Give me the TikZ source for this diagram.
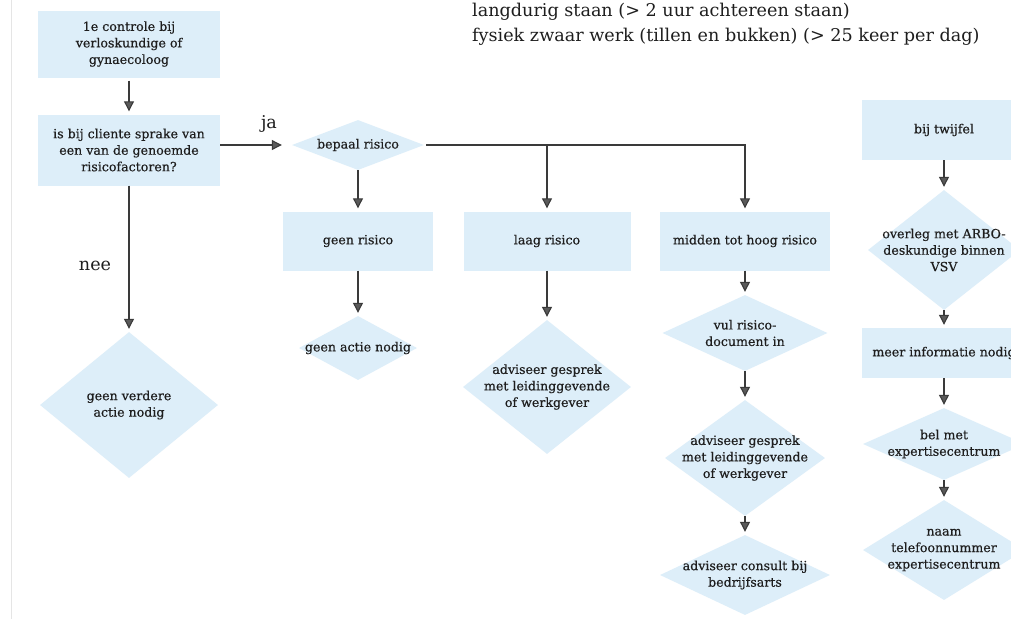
\documentclass[tikz,border=0pt]{standalone}
\usepackage{fontspec}
\setmainfont{DejaVu Serif}
\newfontfamily\flowfam{DejaVu Serif}[FakeBold=0.45]
\usetikzlibrary{arrows.meta,shapes.geometric}
\definecolor{fillblue}{HTML}{DDEEF9}
\definecolor{linegray}{HTML}{3A3A3A}
\definecolor{tipgray}{HTML}{5A5A5A}
\definecolor{txtgray}{HTML}{1E1E1E}
\newcommand\flowfont{\flowfam\fontsize{12.6}{16.5}\selectfont}
\newcommand\bigfont{\fontsize{17.6}{25}\selectfont}
\begin{document}
\begin{tikzpicture}[x=1pt,y=-1pt,
  box/.style={rectangle, fill=fillblue, inner sep=0pt, align=center, text=txtgray, font=\flowfont},
  dia/.style={diamond, fill=fillblue, inner sep=0pt},
  dtext/.style={align=center, text=txtgray, font=\flowfont},
  arr/.style={draw=linegray, line width=1.1pt, shorten >=3pt,
    -{Triangle[width=10pt,length=10pt,fill=tipgray]}},
  lbl/.style={text=txtgray, font=\bigfont, inner sep=0pt},
]
\useasboundingbox (0,0) rectangle (1011,619);
\fill[white] (0,0) rectangle (1011,619);
\draw[gray!20, line width=0.8pt] (11,0) -- (11,619);

% top text
\node[lbl, anchor=west, align=left] (riskfactors) at (472,24.5)
  {langdurig staan (> 2 uur achtereen staan)\\fysiek zwaar werk (tillen en bukken) (> 25 keer per dag)};

% left column
\node[box, minimum width=182pt, minimum height=67pt] (start) at (129,44)
  {1e controle bij\\verloskundige of\\gynaecoloog};
\node[box, minimum width=182pt, minimum height=71pt] (vraag) at (129,150)
  {is bij cliente sprake van\\een van de genoemde\\risicofactoren?};
\node[dia, minimum width=178pt, minimum height=146pt,
  label={[dtext,name=geenverdere-t]center:geen verdere\\actie nodig}] (geenverdere) at (129,405) {};

% bepaal risico
\node[dia, minimum width=132pt, minimum height=50pt,
  label={[dtext,name=bepaal-t]center:bepaal risico}] (bepaal) at (358,145) {};

% three risk boxes
\node[box, minimum width=150pt, minimum height=59pt] (geen) at (358,241) {geen risico};
\node[box, minimum width=167pt, minimum height=59pt] (laag) at (547,241) {laag risico};
\node[box, minimum width=170pt, minimum height=59pt] (midden) at (745,241) {midden tot hoog risico};

\node[dia, minimum width=118pt, minimum height=64pt,
  label={[dtext,name=geenactie-t]center:geen actie nodig}] (geenactie) at (358,348) {};
\node[dia, minimum width=168pt, minimum height=134pt,
  label={[dtext,name=advlaag-t]center:adviseer gesprek\\met leidinggevende\\of werkgever}] (advlaag) at (547,387) {};

\node[dia, minimum width=165pt, minimum height=76pt,
  label={[dtext,name=vul-t]center:vul risico-\\document in}] (vul) at (745,333) {};
\node[dia, minimum width=160pt, minimum height=116pt,
  label={[dtext,name=adv2-t]center:adviseer gesprek\\met leidinggevende\\of werkgever}] (adv2) at (745,458) {};
\node[dia, minimum width=170pt, minimum height=80pt,
  label={[dtext,name=consult-t]center:adviseer consult bij\\bedrijfsarts}] (consult) at (745,575) {};

% right column
\node[box, minimum width=164pt, minimum height=60pt] (twijfel) at (944,130) {bij twijfel};
\node[dia, minimum width=152pt, minimum height=120pt,
  label={[dtext,name=overleg-t]center:overleg met ARBO-\\deskundige binnen\\VSV}] (overleg) at (944,250) {};
\node[box, minimum width=164pt, minimum height=50pt] (meer) at (944,353) {meer informatie nodig};
\node[dia, minimum width=162pt, minimum height=72pt,
  label={[dtext,name=bel-t]center:bel met\\expertisecentrum}] (bel) at (944,444) {};
\node[dia, minimum width=162pt, minimum height=100pt,
  label={[dtext,name=naam-t]center:naam\\telefoonnummer\\expertisecentrum}] (naam) at (944,550) {};

% connectors
\draw[arr, shorten <=3pt] (start) -- (vraag);
\draw[arr, shorten >=10pt] (vraag.east |- bepaal.west) -- (bepaal.west);
\node[lbl] (ja) at (269,124) {ja};
\draw[arr] (vraag) -- (geenverdere);
\node[lbl] (nee) at (95,266) {nee};

\draw[arr] (bepaal) -- (geen);
\draw[arr, shorten <=2pt] (bepaal.east) -| (midden.north);
\draw[arr] (bepaal.east -| laag.north) -- (laag.north);

\draw[arr] (geen) -- (geenactie);
\draw[arr] (laag) -- (advlaag);
\draw[arr] (midden) -- (vul);
\draw[arr] (vul) -- (adv2);
\draw[arr] (adv2) -- (consult);

\draw[arr] (twijfel) -- (overleg);
\draw[arr] (overleg) -- (meer);
\draw[arr] (meer) -- (bel);
\draw[arr] (bel) -- (naam);
\end{tikzpicture}
\end{document}
